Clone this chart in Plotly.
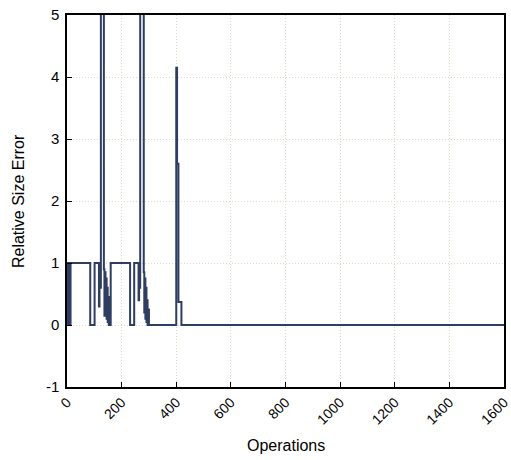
import plotly.graph_objects as go

# Step-wise relative size error over the operation count (change points only)
ops = [0, 2, 4, 6, 8, 10, 13, 85, 101, 117, 119, 121, 124, 135, 137, 139, 141,
       143, 145, 147, 149, 151, 153, 155, 157, 160, 231, 246, 262, 264, 266,
       268, 281, 283, 285, 287, 289, 291, 293, 295, 297, 300, 400, 403, 408,
       419, 1600]
rel_err = [1, 0, 1, 0, 1, 0, 1, 0, 1, 0.3, 1, 0.6, 12, 0.9, 0.15, 0.85, 0.3,
           0.75, 0.1, 0.6, 0.05, 0.45, 0, 0.3, 0, 1, 0, 1, 0.4, 1, 0.6,
           9, 0.85, 0.2, 0.75, 0.1, 0.6, 0.05, 0.4, 0, 0.25, 0, 4.15, 2.6, 0.37,
           0, 0]

x_ticks = [0, 200, 400, 600, 800, 1000, 1200, 1400, 1600]
y_ticks = [-1, 0, 1, 2, 3, 4, 5]
y_tick_labels = ["-1", "0", "1", "2", "3", "4", "5"]

font_family = "Liberation Sans, Arial, Helvetica, sans-serif"

fig = go.Figure(
    go.Scatter(
        x=ops, y=rel_err, mode="lines",
        line=dict(shape="hv", color="#2f3e60", width=2),
        showlegend=False,
    )
)

axis_common = dict(
    showline=True, linecolor="black", linewidth=1.5, mirror=True,
    ticks="inside", ticklen=5, tickcolor="black", tickwidth=1,
    showgrid=True, gridcolor="#dcdcc6", griddash="1px,2px", gridwidth=1,
    zeroline=False, automargin=False,
    ticklabeloverflow="allow",
)

fig.update_xaxes(range=[0, 1600], tickvals=x_ticks, tickangle=-45,
                 ticklabelstandoff=0,
                 tickfont=dict(family=font_family, size=14, color="black"),
                 **axis_common)
fig.update_yaxes(range=[-1, 5], tickvals=y_ticks, ticktext=y_tick_labels,
                 ticklabelstandoff=3,
                 tickfont=dict(family=font_family, size=15, color="black"),
                 **axis_common)

title_font = dict(family=font_family, size=16, color="black")
fig.add_annotation(text="Operations", xref="paper", yref="paper",
                   x=0.5, y=-0.156, xanchor="center", yanchor="middle",
                   showarrow=False, font=title_font)
fig.add_annotation(text="Relative Size Error", xref="paper", yref="paper",
                   x=-0.112, y=0.5, xanchor="center", yanchor="middle",
                   textangle=-90, showarrow=False, font=title_font)

fig.update_layout(
    width=511, height=460,
    margin=dict(l=67, r=7, t=15, b=73),
    plot_bgcolor="white", paper_bgcolor="white",
)

fig.write_html("out.html")
